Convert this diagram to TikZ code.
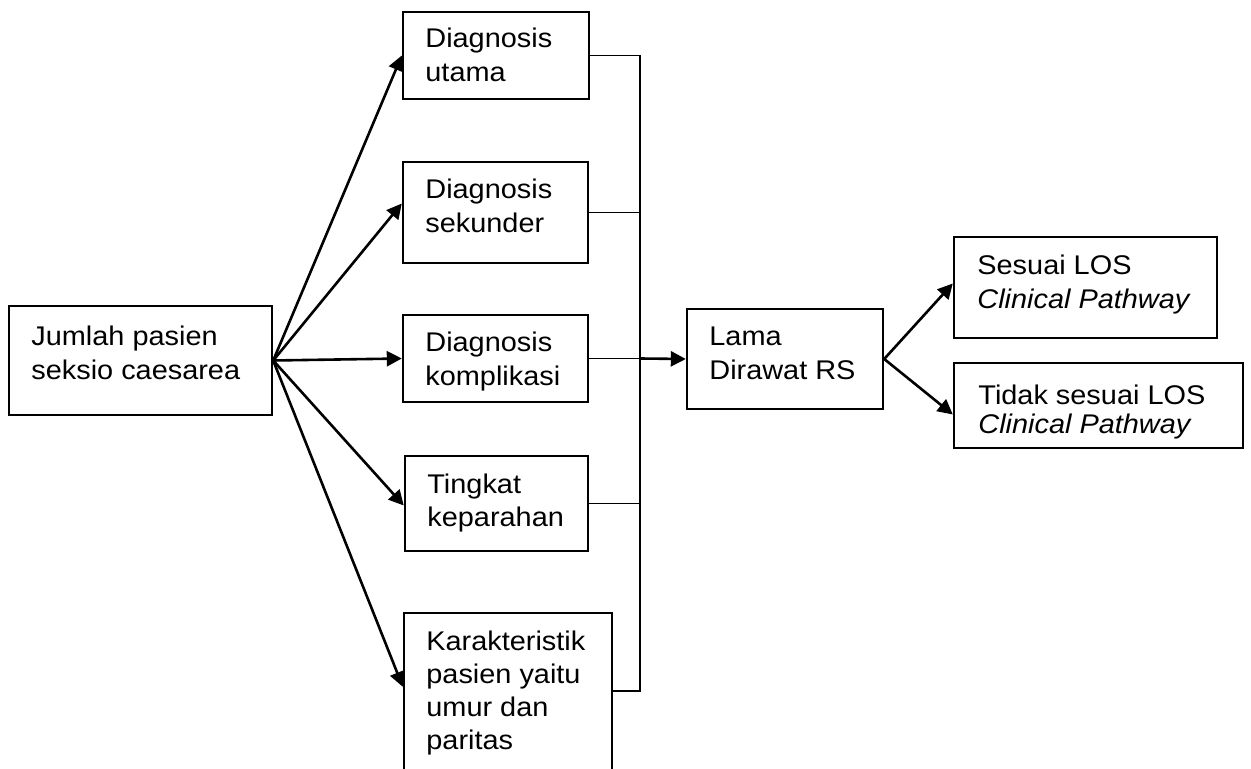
\documentclass[tikz,border=0pt]{standalone}
\usepackage{fontspec}
\setmainfont{Liberation Sans}[FakeStretch=1.07]
\usetikzlibrary{arrows.meta,fit}
\newcommand{\mlines}[1]{\begin{tabular}[t]{@{}l@{}}#1\end{tabular}}
\tikzset{
  box/.style={draw, line width=1.2pt, inner sep=0pt, rectangle},
  lbl/.style={anchor=base west, inner sep=0pt, font=\fontsize{13.5pt}{16.6pt}\selectfont},
  arr/.style={line width=1.3pt, -{Triangle[length=7.5pt,width=7.5pt]}},
  bus/.style={line width=0.9pt}
}
\begin{document}
\begin{tikzpicture}[x=0.5pt,y=-0.5pt]
\useasboundingbox[fill=white] (0,0) rectangle (1251,769);
% boxes
\node[box, fit={(9,306) (272,415)}] (jumlah) {};
\node[box, fit={(403,12) (589,99)}] (utama) {};
\node[box, fit={(403,162) (588,263)}] (sekunder) {};
\node[box, fit={(403,315) (588,402)}] (kompl) {};
\node[box, fit={(405,456) (588,551)}] (tingkat) {};
\node[box, fit={(404,613) (612,800)}] (kar) {};
\node[box, fit={(687,309) (883,409)}] (lama) {};
\node[box, fit={(954,237) (1217,338)}] (sesuai) {};
\node[box, fit={(954,363) (1243,448)}] (tidak) {};
% texts
\node[lbl] (tjumlah) at (31,346) {\mlines{Jumlah pasien\\seksio caesarea}};
\node[lbl] (tutama) at (425,48) {\mlines{Diagnosis\\utama}};
\node[lbl] (tsekunder) at (425,199) {\mlines{Diagnosis\\sekunder}};
\node[lbl] (tkompl) at (425,352) {\mlines{Diagnosis\\komplikasi}};
\node[lbl] (ttingkat) at (427,493) {\mlines{Tingkat\\keparahan}};
\node[lbl] (tkar) at (426,650) {\mlines{Karakteristik\\pasien yaitu\\umur dan\\paritas}};
\node[lbl] (tlama) at (709,346) {\mlines{Lama\\Dirawat RS}};
\node[lbl] (tsesuai) at (977,275) {\mlines{Sesuai LOS\\\textit{Clinical Pathway}}};
\node[lbl] (ttidak) at (978,405) {\renewcommand{\arraystretch}{0.85}\mlines{Tidak sesuai LOS\\\textit{Clinical Pathway}}};
% helper coordinates
\coordinate (busx) at (640,0);
\coordinate (karin) at ([yshift=-37.5pt]kar.north west);
\coordinate (karout) at ([yshift=-39.5pt]kar.north east);
% arrows from Jumlah
\draw[arr] (jumlah.east) -- (utama.west);
\draw[arr] (jumlah.east) -- ([yshift=4.5pt]sekunder.west);
\draw[arr] (jumlah.east) -- (kompl.west);
\draw[arr] (jumlah.east) -- ([yshift=-1pt]tingkat.west);
\draw[arr] (jumlah.east) -- (karin);
% bus
\draw[bus] (utama.east) -- (utama.east -| busx) -- (karout -| busx) -- (karout);
\draw[bus] (sekunder.east) -- (sekunder.east -| busx);
\draw[bus] (tingkat.east) -- (tingkat.east -| busx);
\draw[bus] (kompl.east) -- (kompl.east -| busx);
\draw[arr] (kompl.east -| busx) -- (lama.west);
% outputs
\draw[arr] (lama.east) -- ([yshift=2pt]sesuai.west);
\draw[arr] (lama.east) -- ([yshift=-4.5pt]tidak.west);
\end{tikzpicture}
\end{document}
